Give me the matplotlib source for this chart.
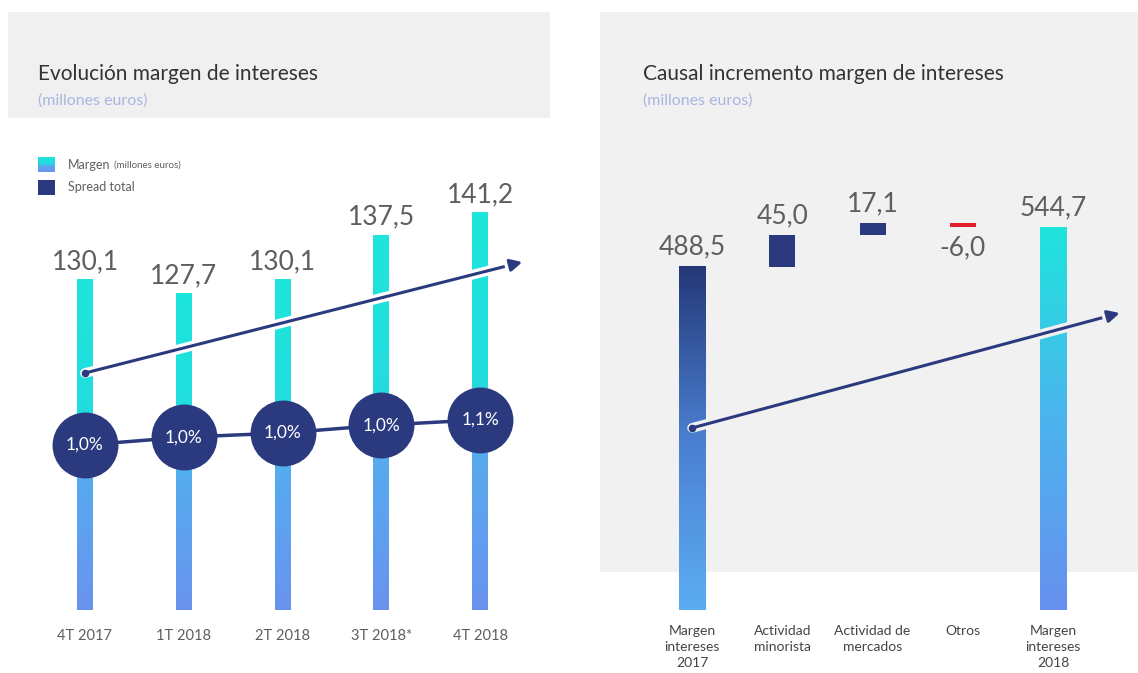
import numpy as np
import matplotlib
matplotlib.use("Agg")
import matplotlib.pyplot as plt
import matplotlib.patheffects as pe
from matplotlib.patches import Rectangle
from matplotlib.colors import LinearSegmentedColormap

# datos
trimestres = ['4T 2017', '1T 2018', '2T 2018', '3T 2018*', '4T 2018']
margen = [130.1, 127.7, 130.1, 137.5, 141.2]
spread = [1.0, 1.0, 1.0, 1.0, 1.1]

causas = ['Margen\nintereses\n2017', 'Actividad\nminorista', 'Actividad de\nmercados',
          'Otros', 'Margen\nintereses\n2018']
causas_valores = [488.5, 45.0, 17.1, -6.0, 544.7]

W, H = 1138, 673
plt.rcParams['font.family'] = ['Lato', 'DejaVu Sans']

navy = '#2b3a7e'
gris = '#5e5e5e'
lila = '#aab6e2'

cmap_izq = LinearSegmentedColormap.from_list('izq', [(0, '#6a93ee'), (0.42, '#55acee'),
                                                     (0.58, '#22dcde'), (1, '#1ee6dc')])
cmap_ini = LinearSegmentedColormap.from_list('ini', [(0, '#5cadf2'), (0.5, '#4a7fd0'), (1, '#243878')])
cmap_fin = LinearSegmentedColormap.from_list('fin', [(0, '#6790ee'), (0.5, '#4cb4ee'), (1, '#1ee4dc')])
grad = np.linspace(0, 1, 256).reshape(-1, 1)


def fx(x):
    return x / W


def fy(y):
    return 1 - y / H


def rect_px(fig, x0, y0, x1, y1, color):
    fig.add_artist(Rectangle((fx(x0), fy(y1)), fx(x1 - x0), (y1 - y0) / H,
                             transform=fig.transFigure, color=color, zorder=0, lw=0))


def pintar_gradiente(ax, barra, cmap):
    x0, y0 = barra.get_x(), barra.get_y()
    w, h = barra.get_width(), barra.get_height()
    ax.imshow(grad, extent=[x0, x0 + w, y0, y0 + h], origin='lower', cmap=cmap,
              aspect='auto', zorder=2)


def coma(v):
    return f"{v:.1f}".replace('.', ',')


fig = plt.figure(figsize=(W / 100, H / 100), dpi=100)
fig.patch.set_facecolor('white')

# fondos
rect_px(fig, 8, 12, 550, 118, '#f0f0f0')
rect_px(fig, 600, 12, 1138, 572, '#f1f1f1')

# titulos
fig.text(fx(38), fy(80), 'Evolución margen de intereses', fontsize=15, color='#333333', va='baseline')
fig.text(fx(38), fy(105), '(millones euros)', fontsize=11.5, color=lila, va='baseline')
fig.text(fx(643), fy(80), 'Causal incremento margen de intereses', fontsize=15, color='#333333', va='baseline')
fig.text(fx(643), fy(105), '(millones euros)', fontsize=11.5, color=lila, va='baseline')

# leyenda
ax_ley = fig.add_axes([fx(38), fy(172), fx(17), 15 / H])
ax_ley.imshow(grad, origin='lower', cmap=cmap_izq, aspect='auto', extent=[0, 1, 0, 1])
ax_ley.axis('off')
rect_px(fig, 38, 180, 55, 195, navy)
fig.text(fx(68), fy(165), 'Margen', fontsize=9, color=gris, va='center')
fig.text(fx(114), fy(165), '(millones euros)', fontsize=7, color=gris, va='center')
fig.text(fx(68), fy(187), 'Spread total', fontsize=9, color=gris, va='center')

# ---- panel izquierdo ----
ax1 = fig.add_axes([fx(35.6), fy(610), fx(493.8), 480 / H])
ax1.set_facecolor('none')
x = np.arange(len(trimestres))
barras = ax1.bar(x, [m - 75 for m in margen], bottom=75, width=0.162, color='none', zorder=2)
for b in barras:
    pintar_gradiente(ax1, b, cmap_izq)
for xi, m in zip(x, margen):
    ax1.annotate(coma(m), (xi, m), xytext=(0, 4), textcoords='offset points', ha='center',
                 va='bottom', fontsize=19, color=gris)

# flecha tendencia
flecha = ax1.annotate('', xy=(4.43, 133), xytext=(0, 114.5),
                      arrowprops=dict(arrowstyle='-|>', color=navy, lw=2.2, mutation_scale=18,
                                      shrinkA=0, shrinkB=0), zorder=4)
flecha.arrow_patch.set_path_effects([pe.Stroke(linewidth=7, foreground='white'), pe.Normal()])
ax1.scatter([0], [114.5], s=20, color=navy, zorder=5)

# circulos spread
pos_circ = [102.5, 103.8, 104.5, 105.8, 106.7]
ax1.plot(x, pos_circ, color=navy, lw=2.5, zorder=5)
ax1.scatter(x, pos_circ, s=2250, color=navy, zorder=6, linewidths=0)
for xi, yi, s in zip(x, pos_circ, spread):
    ax1.text(xi, yi, coma(s) + '%', ha='center', va='center', color='white', fontsize=12.5, zorder=7)

ax1.set_xlim(-0.5, 4.5)
ax1.set_ylim(75, 155)
ax1.axis('off')
for xi, t in zip(x, trimestres):
    ax1.annotate(t, (xi, 75), xytext=(0, -14), textcoords='offset points', ha='center',
                 va='top', fontsize=10.5, color=gris, annotation_clip=False)

# ---- panel derecho ----
ax2 = fig.add_axes([fx(647), fy(610), fx(478.3), 480 / H])
ax2.set_facecolor('none')
xc = np.arange(len(causas))
inicio = causas_valores[0]
bases = [0]
alturas = [inicio]
acum = inicio
for v in causas_valores[1:-1]:
    bases.append(acum if v >= 0 else acum + v)
    alturas.append(abs(v))
    acum += v
bases.append(0)
alturas.append(causas_valores[-1])
colores = ['none', navy, navy, '#e0202a', 'none']
barras2 = ax2.bar(xc, alturas, bottom=bases, width=0.29, color=colores, zorder=2)
pintar_gradiente(ax2, barras2[0], cmap_ini)
pintar_gradiente(ax2, barras2[-1], cmap_fin)

for i, (b, v) in enumerate(zip(barras2, causas_valores)):
    if v >= 0:
        ax2.annotate(coma(v), (b.get_x() + b.get_width() / 2, b.get_y() + b.get_height()),
                     xytext=(0, 5), textcoords='offset points', ha='center', va='bottom',
                     fontsize=19, color=gris)
    else:
        ax2.annotate(coma(v), (b.get_x() + b.get_width() / 2, b.get_y()),
                     xytext=(0, -6), textcoords='offset points', ha='center', va='top',
                     fontsize=19, color=gris)

flecha2 = ax2.annotate('', xy=(4.74, 422.5), xytext=(0, 259),
                       arrowprops=dict(arrowstyle='-|>', color=navy, lw=2.2, mutation_scale=18,
                                       shrinkA=0, shrinkB=0), zorder=4, annotation_clip=False)
flecha2.arrow_patch.set_path_effects([pe.Stroke(linewidth=7, foreground='#f1f1f1'), pe.Normal()])
ax2.scatter([0], [259], s=20, color=navy, zorder=5)

ax2.set_xlim(-0.5, 4.8)
ax2.set_ylim(0, 682.8)
ax2.axis('off')
for xi, t in zip(xc, causas):
    ax2.annotate(t, (xi, 0), xytext=(0, -11), textcoords='offset points', ha='center',
                 va='top', fontsize=10, color='#444444', linespacing=1.4, annotation_clip=False)

fig.savefig('out.png', dpi=100)
